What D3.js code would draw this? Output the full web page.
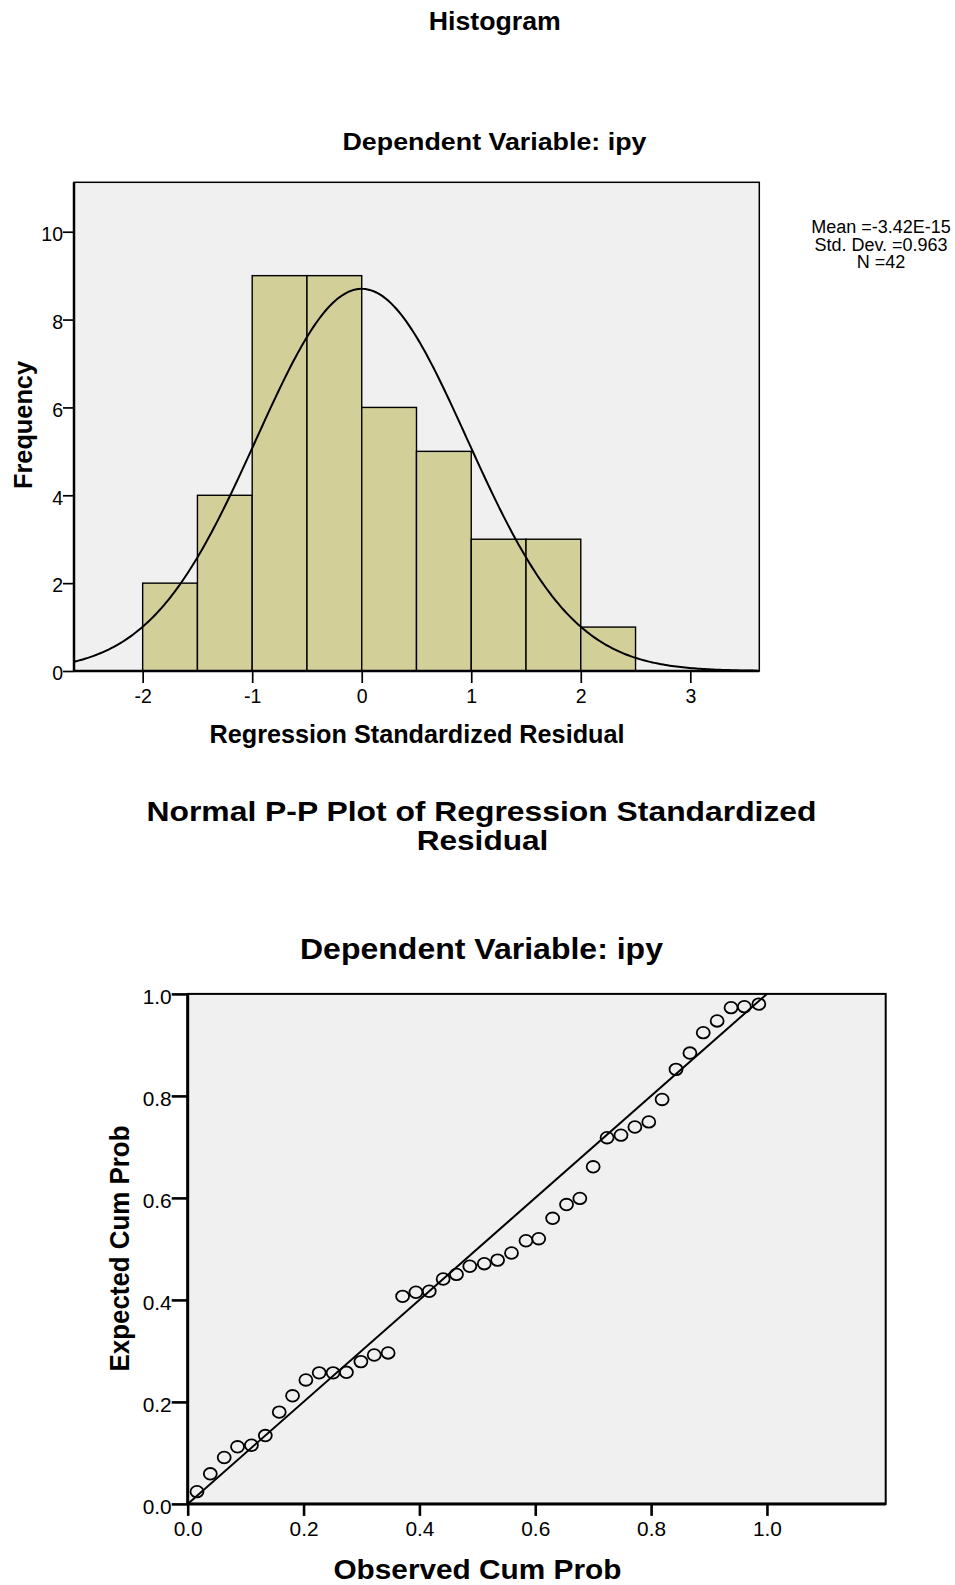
<!DOCTYPE html>
<html>
<head>
<meta charset="utf-8">
<script src="https://cdn.jsdelivr.net/npm/d3@7"></script>
<style>
  body { margin: 0; background: #fff; }
  svg { display: block; font-family: "Liberation Sans", Arial, sans-serif; }
</style>
</head>
<body>
<svg id="chart" width="955" height="1585"></svg>
<script>
// histogram data
const binStart = [-2, -1.5, -1, -0.5, 0, 0.5, 1, 1.5, 2];
const binCounts = [2, 4, 9, 9, 6, 5, 3, 3, 1];
const binWidth = 0.5;
const histXTicks = [-2, -1, 0, 1, 2, 3];
const histYTicks = [0, 2, 4, 6, 8, 10];
const statMean = -3.42e-15, statSd = 0.963, statN = 42;
const statLines = ['Mean =-3.42E-15', 'Std. Dev. =0.963', 'N =42'];

// p-p plot data
const observedCumProb = [0.016, 0.039, 0.063, 0.086, 0.110, 0.134, 0.158, 0.181, 0.204, 0.227,
  0.251, 0.274, 0.299, 0.322, 0.346, 0.371, 0.394, 0.417, 0.441, 0.464,
  0.487, 0.512, 0.535, 0.559, 0.584, 0.606, 0.630, 0.654, 0.677, 0.700,
  0.724, 0.748, 0.772, 0.796, 0.819, 0.843, 0.867, 0.890, 0.914, 0.938,
  0.961, 0.986];
const expectedCumProb = [0.024, 0.059, 0.091, 0.112, 0.115, 0.134, 0.180, 0.212, 0.243, 0.257,
  0.257, 0.258, 0.279, 0.292, 0.296, 0.407, 0.415, 0.417, 0.441, 0.450,
  0.466, 0.471, 0.478, 0.492, 0.516, 0.520, 0.560, 0.587, 0.599, 0.661,
  0.718, 0.723, 0.739, 0.749, 0.793, 0.852, 0.884, 0.924, 0.947, 0.973,
  0.975, 0.980];
const ppTicks = [0, 0.2, 0.4, 0.6, 0.8, 1.0];

const svg = d3.select('#chart');

// text helper; len stretches the text like the SPSS output
const label = (text, x, y, size, opts = {}) => {
  const t = svg.append('text')
    .attr('transform', `translate(${x},${y})` + (opts.rotate ? ` rotate(${opts.rotate})` : ''))
    .attr('text-anchor', opts.anchor || 'middle')
    .style('font-size', size + 'px')
    .style('font-weight', opts.bold ? 'bold' : 'normal')
    .style('fill', '#000')
    .text(text);
  if (opts.len) t.attr('textLength', opts.len).attr('lengthAdjust', 'spacingAndGlyphs');
  return t;
};

const styleAxis = (g, w, size) => {
  g.select('.domain').remove();
  g.selectAll('line').style('stroke', '#000').style('stroke-width', w);
  g.selectAll('text').style('font-size', size + 'px').style('fill', '#000')
    .style('font-family', '"Liberation Sans", Arial, sans-serif');
};

// ---------- histogram ----------
const hx = d3.scaleLinear().domain([-2.627, 3.63]).range([74, 759.3]);
const hy = d3.scaleLinear().domain([0, 11.125]).range([671, 182.3]);

label('Histogram', 494.8, 29.5, 25, { bold: true, len: 132 });
label('Dependent Variable: ipy', 494.5, 150, 24.5, { bold: true, len: 304 });

svg.append('rect')
  .attr('x', hx.range()[0]).attr('y', hy.range()[1])
  .attr('width', hx.range()[1] - hx.range()[0])
  .attr('height', hy.range()[0] - hy.range()[1])
  .style('fill', '#f0f0f0').style('stroke', '#000').style('stroke-width', 1.5);

svg.append('g').selectAll('rect')
  .data(binStart)
  .join('rect')
  .attr('x', d => hx(d))
  .attr('y', (d, i) => hy(binCounts[i]))
  .attr('width', d => hx(d + binWidth) - hx(d))
  .attr('height', (d, i) => hy(0) - hy(binCounts[i]))
  .style('fill', '#d3cf98')
  .style('stroke', '#000')
  .style('stroke-width', 1.4);

// normal curve from the reported stats
const curveXs = d3.range(hx.domain()[0], hx.domain()[1] + 0.001, 0.02);
const dens = x => statN * binWidth / (statSd * Math.sqrt(2 * Math.PI)) *
  Math.exp(-0.5 * Math.pow((x - statMean) / statSd, 2));
svg.append('path')
  .datum(curveXs)
  .attr('d', d3.line().x(d => hx(d)).y(d => hy(dens(d))))
  .style('fill', 'none').style('stroke', '#000').style('stroke-width', 2);

svg.append('line')
  .attr('x1', hx.range()[0]).attr('x2', hx.range()[0])
  .attr('y1', hy.range()[1]).attr('y2', hy.range()[0])
  .style('stroke', '#000').style('stroke-width', 2.5);
svg.append('line')
  .attr('x1', hx.range()[0]).attr('x2', hx.range()[1])
  .attr('y1', hy.range()[0]).attr('y2', hy.range()[0])
  .style('stroke', '#000').style('stroke-width', 2.5);

svg.append('g')
  .attr('transform', `translate(${hx.range()[0]},0)`)
  .call(d3.axisLeft(hy).tickValues(histYTicks).tickFormat(d => String(d)).tickSize(11).tickPadding(0))
  .call(g => styleAxis(g, 1.7, 19.5))
  .call(g => g.selectAll('text').attr('dy', '0.45em'));

svg.append('g')
  .attr('transform', `translate(0,${hy.range()[0]})`)
  .call(d3.axisBottom(hx).tickValues(histXTicks).tickFormat(d => String(d)).tickSize(12).tickPadding(6))
  .call(g => styleAxis(g, 1.7, 19.5));

label('Regression Standardized Residual', 417, 742.7, 25, { bold: true, len: 415 });
label('Frequency', 31.5, 425, 26, { bold: true, len: 128, rotate: -90 });

statLines.forEach((s, i) => label(s, 881, 233.3 + i * 17.5, 18));

// ---------- normal p-p plot ----------
const px = d3.scaleLinear().domain([0, 1.205]).range([187.7, 885.7]);
const py = d3.scaleLinear().domain([0, 1]).range([1503.9, 993.9]);

label('Normal P-P Plot of Regression Standardized', 481.5, 821, 28.5, { bold: true, len: 670 });
label('Residual', 482.5, 850, 28.5, { bold: true, len: 131.7 });
label('Dependent Variable: ipy', 481.5, 959, 29.5, { bold: true, len: 363 });

svg.append('rect')
  .attr('x', px.range()[0]).attr('y', py.range()[1])
  .attr('width', px.range()[1] - px.range()[0])
  .attr('height', py.range()[0] - py.range()[1])
  .style('fill', '#f0f0f0').style('stroke', '#000').style('stroke-width', 2);

svg.append('line')
  .attr('x1', px(0)).attr('y1', py(0))
  .attr('x2', px(1)).attr('y2', py(1))
  .style('stroke', '#000').style('stroke-width', 2);

svg.append('g').selectAll('ellipse')
  .data(observedCumProb)
  .join('ellipse')
  .attr('cx', d => px(d))
  .attr('cy', (d, i) => py(expectedCumProb[i]))
  .attr('rx', 6.5).attr('ry', 5.8)
  .style('fill', 'none').style('stroke', '#000').style('stroke-width', 1.8);

svg.append('line')
  .attr('x1', px.range()[0]).attr('x2', px.range()[0])
  .attr('y1', py.range()[1]).attr('y2', py.range()[0])
  .style('stroke', '#000').style('stroke-width', 3);
svg.append('line')
  .attr('x1', px.range()[0]).attr('x2', px.range()[1])
  .attr('y1', py.range()[0]).attr('y2', py.range()[0])
  .style('stroke', '#000').style('stroke-width', 3);

svg.append('g')
  .attr('transform', `translate(${px.range()[0]},0)`)
  .call(d3.axisLeft(py).tickValues(ppTicks).tickFormat(d3.format('.1f')).tickSize(16).tickPadding(0))
  .call(g => styleAxis(g, 2.6, 19.5))
  .call(g => g.selectAll('text').attr('dy', '0.5em').attr('textLength', 29).attr('lengthAdjust', 'spacingAndGlyphs'));

svg.append('g')
  .attr('transform', `translate(0,${py.range()[0]})`)
  .call(d3.axisBottom(px).tickValues(ppTicks).tickFormat(d3.format('.1f')).tickSize(12).tickPadding(6))
  .call(g => styleAxis(g, 2.6, 19.5))
  .call(g => g.selectAll('text').attr('textLength', 29).attr('lengthAdjust', 'spacingAndGlyphs'));

label('Expected Cum Prob', 129.3, 1248.5, 28.5, { bold: true, len: 246, rotate: -90 });
label('Observed Cum Prob', 477.4, 1579.4, 28.5, { bold: true, len: 288 });
</script>
</body>
</html>
